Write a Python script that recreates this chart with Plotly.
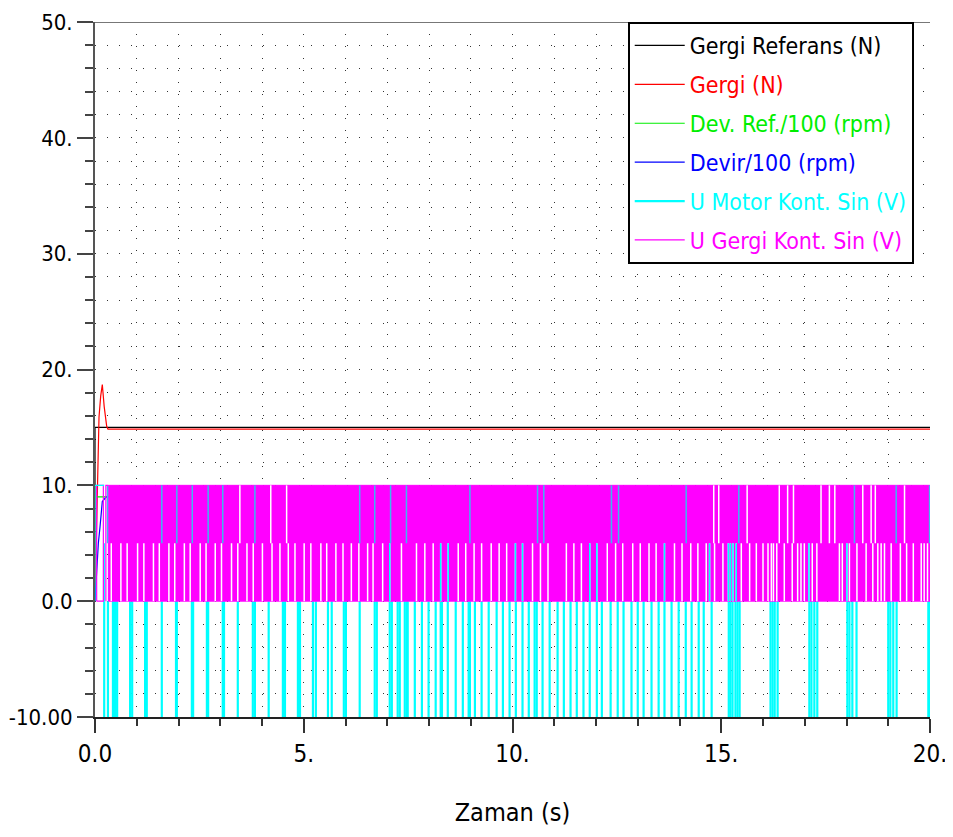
import plotly.graph_objects as go

# ---------------- data ----------------
ref_t = [0.0, 0.0, 20.0]
ref_v = [0.0, 15.0, 15.0]

gergi_t = [0.0, 0.04, 0.065, 0.096, 0.136, 0.175, 0.22, 0.28, 0.31, 20.0]
gergi_v = [0.0, 6.4, 11.9, 15.9, 17.7, 18.7, 16.8, 15.1, 14.85, 14.85]

devref_t = [0.0, 20.0]
devref_v = [9.0, 9.0]

devir_t = [0.0, 0.04, 0.08, 0.12, 0.16, 0.175, 0.27, 20.0]
devir_v = [0.0, 2.7, 5.0, 6.4, 7.9, 8.6, 9.0, 9.0]

# U Motor Kont. Sin (V): switching signal, levels -10 / 0 / 10
umotor_start_t = [0.0, 0.0, 0.22]
umotor_start_v = [0.0, 10.0, 10.0]
umotor_low_pulses = [0.22, 0.31, 0.43, 0.48, 0.53, 0.84, 0.89, 1.20, 1.24, 1.60, 1.94, 1.96,
                     2.32, 2.35, 2.68, 2.71, 3.06, 3.09, 3.42, 3.78, 3.83, 4.16, 4.50, 4.55,
                     4.86, 4.91, 5.22, 5.29, 5.58, 5.67, 5.96, 6.01, 6.34, 6.70, 6.75, 7.06,
                     7.11, 7.25, 7.30, 7.42, 7.47, 7.49, 7.66, 7.83, 7.99, 8.16, 8.28, 8.31,
                     8.45, 8.64, 8.81, 8.95, 8.98, 9.10, 9.26, 9.43, 9.62, 9.77, 9.93, 10.08,
                     10.24, 10.39, 10.53, 10.58, 10.72, 10.89, 11.08, 11.23, 11.39, 11.54,
                     11.70, 11.85, 12.02, 12.14, 12.35, 12.52, 12.66, 12.85, 13.00, 13.14,
                     13.33, 13.50, 13.64, 13.81, 13.98, 14.15, 14.29, 14.46, 14.58, 14.77,
                     15.18, 15.22, 15.27, 15.34, 15.39, 15.44, 16.18, 16.23, 16.28, 16.35,
                     17.11, 17.16, 17.23, 17.30, 18.02, 18.07, 18.14, 18.24, 19.00, 19.05,
                     19.12, 19.20, 19.96, 19.99]
umotor_mid_marks = [0.22, 7.06, 8.28, 8.46, 10.07, 10.24, 11.85, 12.02, 13.64, 14.72,
                    15.17, 15.22, 15.28, 15.36, 17.10, 18.01]
umotor_high_marks = [0.30, 1.60, 1.96, 2.33, 2.71, 3.06, 3.83, 6.34, 6.70, 7.08, 7.46, 8.98,
                     10.60, 10.75, 12.37, 12.54, 14.16, 15.42, 18.19, 19.19, 19.99]

# U Gergi Kont. Sin (V): switching signal, levels 0 / 5 / 10
ugergi_start_t = [0.04, 0.04, 0.20, 0.20, 0.04, None, 0.26, 0.26, 0.32]
ugergi_start_v = [0.0, 10.0, 10.0, 0.0, 0.0, None, 0.0, 10.0, 10.0]
ugergi_span = [0.32, 20.0]
ugergi_low_gaps = [0.39, 0.62, 0.77, 1.02, 1.17, 1.40, 1.54, 1.77, 1.91, 2.14, 2.28, 2.52,
                   2.66, 2.88, 3.03, 3.27, 3.42, 3.64, 3.79, 4.01, 4.24, 4.43, 4.63, 4.79,
                   5.01, 5.17, 5.41, 5.55, 5.77, 5.94, 6.14, 6.32, 6.53, 6.66, 6.89, 7.06,
                   7.34, 7.70, 7.90, 8.10, 8.28, 8.46, 8.70, 8.88, 9.08, 9.26, 9.49, 9.68,
                   9.86, 10.07, 10.24, 10.48, 10.67, 10.85, 11.29, 11.47, 11.65, 11.85,
                   12.02, 12.27, 12.47, 12.64, 12.88, 13.06, 13.27, 13.44, 13.64, 13.88,
                   14.06, 14.27, 14.44, 14.64, 14.72, 14.84, 15.04, 15.17, 15.22, 15.28,
                   15.36, 15.48, 15.68, 15.84, 16.00, 16.12, 16.20, 16.25, 16.33, 16.51,
                   16.70, 16.83, 16.91, 16.99, 17.10, 17.18, 17.29, 17.83, 17.90, 18.01,
                   18.07, 18.25, 18.47, 18.63, 18.75, 18.83, 18.91, 19.07, 19.29, 19.44,
                   19.60, 19.79, 19.86, 19.94]
ugergi_high_gaps = [3.47, 4.21, 4.59, 14.82, 14.94, 15.62, 16.39, 16.59, 16.73, 17.39,
                    17.59, 17.72, 18.39, 18.59, 18.69, 19.39]

U_NEG, U_ZERO, U_HALF, U_FULL = -10.0, 0.0, 5.0, 10.0

x_tickvals = [0, 5, 10, 15, 20]
x_ticktext = ["0.0", "5.", "10.", "15.", "20."]
y_tickvals = [-10, 0, 10, 20, 30, 40, 50]
y_ticktext = ["-10.00", "0.0", "10.", "20.", "30.", "40.", "50."]

names = ["Gergi Referans (N)", "Gergi (N)", "Dev. Ref./100 (rpm)", "Devir/100 (rpm)",
         "U Motor Kont. Sin (V)", "U Gergi Kont. Sin (V)"]
colors = ["#000000", "#ff0000", "#00ee00", "#0000ff", "#00ffff", "#ff00ff"]


def verticals(times, y0, y1):
    xs, ys = [], []
    for t in times:
        xs += [t, t, None]
        ys += [y0, y1, None]
    return xs, ys


def lname(i):
    return '<span style="color:%s">%s</span>' % (colors[i], names[i])


FONT = "DejaVu Sans Condensed, Liberation Sans Narrow, Arial Narrow, sans-serif"

fig = go.Figure()

fig.add_trace(go.Scatter(x=ref_t, y=ref_v, mode="lines", name=lname(0), legendrank=1,
                         legendgroup="g1", line=dict(color=colors[0], width=1.2)))
fig.add_trace(go.Scatter(x=gergi_t, y=gergi_v, mode="lines", name=lname(1), legendrank=2,
                         legendgroup="g2", line=dict(color=colors[1], width=1.2)))
fig.add_trace(go.Scatter(x=devref_t, y=devref_v, mode="lines", name=lname(2), legendrank=3,
                         legendgroup="g3", line=dict(color=colors[2], width=1.2)))
fig.add_trace(go.Scatter(x=devir_t, y=devir_v, mode="lines", name=lname(3), legendrank=4,
                         legendgroup="g4", line=dict(color=colors[3], width=1.2)))

# U Motor pulses down to -10
xs, ys = verticals(umotor_low_pulses, U_NEG, U_ZERO)
fig.add_trace(go.Scatter(x=xs, y=ys, mode="lines", name=lname(4), legendrank=5,
                         legendgroup="g5", line=dict(color=colors[4], width=2.2)))

# U Gergi dense switching block
s0, s1 = ugergi_span
fig.add_trace(go.Scatter(x=[s0, s1, s1, s0, s0], y=[U_ZERO, U_ZERO, U_FULL, U_FULL, U_ZERO],
                         mode="lines", fill="toself", fillcolor=colors[5],
                         line=dict(color=colors[5], width=1), showlegend=False))
xs, ys = verticals(ugergi_low_gaps, U_ZERO, U_HALF)
fig.add_trace(go.Scatter(x=xs, y=ys, mode="lines", showlegend=False,
                         line=dict(color="#ffffff", width=1.5)))
xs, ys = verticals(ugergi_high_gaps, U_HALF, U_FULL)
fig.add_trace(go.Scatter(x=xs, y=ys, mode="lines", showlegend=False,
                         line=dict(color="#ffffff", width=1.5)))
xs, ys = verticals(umotor_mid_marks, U_ZERO, U_HALF)
fig.add_trace(go.Scatter(x=xs, y=ys, mode="lines", showlegend=False,
                         line=dict(color=colors[4], width=1.5)))
xs, ys = verticals(umotor_high_marks, U_HALF, U_FULL)
fig.add_trace(go.Scatter(x=xs, y=ys, mode="lines", showlegend=False,
                         line=dict(color="#3fb6f0", width=1.5)))

fig.add_trace(go.Scatter(x=ugergi_start_t, y=ugergi_start_v, mode="lines", name=lname(5),
                         legendrank=6, legendgroup="g6",
                         line=dict(color=colors[5], width=1.2)))
fig.add_trace(go.Scatter(x=umotor_start_t, y=umotor_start_v, mode="lines", showlegend=False,
                         line=dict(color=colors[4], width=1.2)))

dotgrid = dict(showgrid=True, gridcolor="#333333", gridwidth=1, griddash="1px,11px")

# page body has an 8px default margin: figure is sized/offset to compensate
fig.update_layout(
    width=945, height=829,
    margin=dict(l=87, r=23, t=14, b=120, autoexpand=False),
    paper_bgcolor="white", plot_bgcolor="white",
    font=dict(family=FONT, size=23, color="black"),
    showlegend=True,
    legend=dict(x=0.638, y=1.0, xanchor="left", yanchor="top",
                bgcolor="white", bordercolor="black", borderwidth=2,
                font=dict(family=FONT, size=23), traceorder="grouped",
                tracegroupgap=6, itemwidth=50),
    xaxis=dict(range=[0, 20], tickvals=x_tickvals, ticktext=x_ticktext,
               ticks="outside", ticklen=14, tickwidth=1.5, tickcolor="#333333",
               showline=True, linecolor="#222222", linewidth=2, zeroline=False,
               tickfont=dict(size=24),
               minor=dict(dtick=1, ticks="outside", ticklen=7, tickcolor="#333333",
                          **dotgrid),
               title=dict(text="Zaman (s)", font=dict(size=25), standoff=37),
               **dotgrid),
    yaxis=dict(range=[-10, 50], tickvals=y_tickvals, ticktext=y_ticktext,
               ticks="outside", ticklen=16, tickwidth=1.5, tickcolor="#444444",
               showline=True, linecolor="#555555", linewidth=2, zeroline=False,
               tickfont=dict(size=22),
               minor=dict(dtick=2, ticks="outside", ticklen=8, tickcolor="#444444",
                          **dotgrid),
               **dotgrid),
    shapes=[dict(type="line", xref="paper", yref="y", x0=0, x1=1, y0=50, y1=50,
                 line=dict(color="#777777", width=2))],
)

fig.write_html("out.html")
